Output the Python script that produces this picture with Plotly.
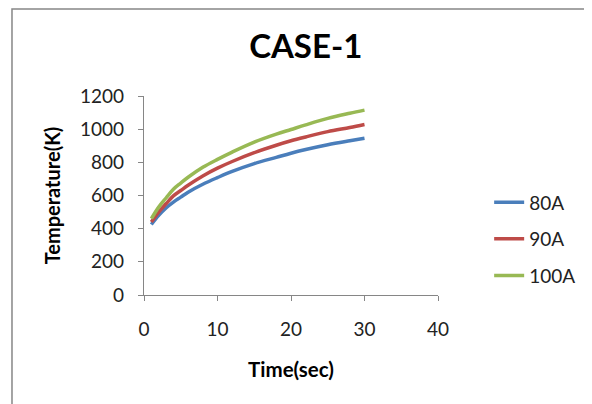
import plotly.graph_objects as go

time_s = [1, 2, 3, 4, 5, 6, 8, 10, 12, 15, 18, 20, 22, 25, 28, 30]
temp_80A = [425, 480, 525, 560, 590, 620, 668, 708, 745, 792, 830, 855, 877, 906, 930, 945]
temp_90A = [440, 500, 550, 598, 630, 662, 718, 765, 805, 858, 903, 930, 953, 985, 1010, 1028]
temp_100A = [460, 530, 585, 638, 675, 710, 770, 818, 862, 922, 970, 998, 1026, 1065, 1096, 1115]
series_names = ["80A", "90A", "100A"]
colors = ["#4A7EBB", "#BE4B48", "#98B954"]

FONT = "Lato, 'Liberation Sans', sans-serif"

fig = go.Figure()
for name, vals, col in zip(series_names, [temp_80A, temp_90A, temp_100A], colors):
    fig.add_trace(go.Scatter(
        x=time_s, y=vals, mode="lines", name=name, legendgroup=name,
        line=dict(color=col, width=3.5, shape="spline", smoothing=1.0),
    ))

axis_common = dict(
    showline=True, linecolor="#868686", linewidth=1.2,
    ticks="outside", ticklen=5, tickcolor="#868686", tickwidth=1.2,
    showgrid=False, zeroline=False, automargin=False,
    tickfont=dict(family=FONT, size=19, color="#222"),
)

fig.update_layout(
    width=592, height=404,
    paper_bgcolor="white", plot_bgcolor="white",
    margin=dict(l=136, r=162, t=88, b=117, autoexpand=False),
    title=dict(text="<b>CASE-1</b>", x=0.503, xanchor="center", y=0.905, yanchor="middle",
               font=dict(family=FONT, size=33, color="#000")),
    xaxis=dict(range=[0, 40], dtick=10, tick0=0,
               title=dict(text="<b>Time(sec)</b>", standoff=23,
                          font=dict(family=FONT, size=20.5, color="#000")),
               ticklabelstandoff=12,
               **axis_common),
    yaxis=dict(range=[0, 1200], dtick=200, tick0=0,
               title=dict(text="<b>Temperature(K)</b>", standoff=14,
                          font=dict(family=FONT, size=20, color="#000")),
               ticklabelstandoff=10,
               **axis_common),
    legend=dict(x=1.174, xanchor="left", y=0.28, yanchor="middle",
                font=dict(family=FONT, size=19, color="#222"),
                tracegroupgap=9, bgcolor="rgba(0,0,0,0)"),
    shapes=[dict(type="rect", xref="paper", yref="paper",
                 x0=-0.449, x1=1.6, y0=-0.6, y1=1.437,
                 line=dict(color="#878787", width=1.5), fillcolor="rgba(0,0,0,0)", layer="below")],
)

fig.write_html("out.html")
